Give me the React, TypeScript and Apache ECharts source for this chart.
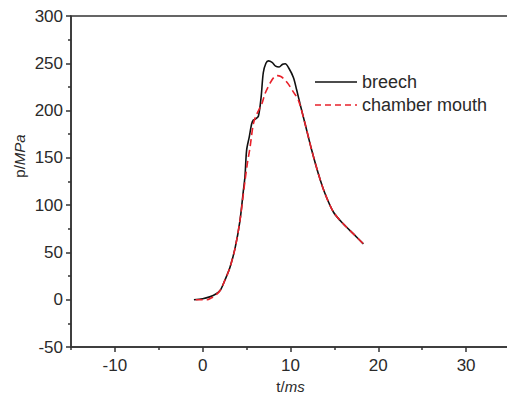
import React, { useEffect, useRef } from "react";
import * as echarts from "echarts";

const breechT = [-1.0, 0, 0.8, 1.5, 2.0, 2.5, 3.1, 3.7, 4.25, 4.63, 4.82, 5.0, 5.3, 5.58, 5.77, 6.0, 6.34, 6.65, 6.9, 7.2, 7.48, 7.9, 8.3, 8.7, 9.1, 9.4, 9.8, 10.33, 10.7, 11.09, 11.66, 12.42, 13.18, 13.94, 14.9, 16.03, 17.17, 18.3];
const breechP = [0, 1, 3, 6, 10, 20, 34, 55, 84, 115, 131, 158, 172, 186, 190, 191, 194, 214, 240, 250, 252.5, 251, 247, 246, 249, 249.5, 245, 235, 222, 207, 186, 158, 133, 112, 92.5, 80, 69.6, 59];

const mouthT = [-0.8, 0.5, 1.0, 1.5, 2.0, 2.5, 3.1, 3.7, 4.25, 4.63, 4.85, 5.1, 5.39, 5.77, 6.1, 6.73, 7.1, 7.67, 8.1, 8.5, 8.9, 9.3, 9.76, 10.3, 10.9, 11.66, 12.42, 13.18, 13.94, 14.9, 16.03, 17.17, 18.3];
const mouthP = [0, 0, 2, 5, 10, 20, 34, 55, 84, 112, 128, 145, 161, 186, 195, 207, 218, 229, 235, 237, 236, 233, 228, 220, 211, 186, 158, 133, 112, 92.5, 80, 69.6, 59];

const xMajor = [-10, 0, 10, 20, 30];
const xMinor = [-15, -5, 5, 15, 25, 35];
const seriesNames = ["breech", "chamber mouth"];
const seriesColors = ["#111111", "#e8202a"];

const FONT = "Liberation Sans, Arial, sans-serif";
const AXIS = "#333333";
const TXT = "#2a2a2a";

export default function App() {
  const ref = useRef<HTMLDivElement>(null);
  useEffect(() => {
    if (!ref.current) return;
    const chart = echarts.init(ref.current, undefined, { renderer: "svg" });
    const zip = (t: number[], p: number[]) => t.map((v, i) => [v, p[i]]);
    const legendY = [82, 105];
    const legendGraphics: any[] = [];
    seriesNames.forEach((n, i) => {
      legendGraphics.push({
        type: "line",
        shape: { x1: 315, y1: legendY[i], x2: 357, y2: legendY[i] },
        style: {
          stroke: seriesColors[i],
          lineWidth: 1.6,
          lineDash: i === 1 ? [6, 4] : null,
        },
      });
      legendGraphics.push({
        type: "text",
        x: 362,
        y: legendY[i],
        style: {
          text: n,
          fontSize: 18,
          fill: TXT,
          fontFamily: FONT,
          align: "left",
          verticalAlign: "middle",
        },
      });
    });
    chart.setOption({
      animation: false,
      backgroundColor: "#ffffff",
      textStyle: { fontFamily: FONT },
      grid: {
        left: 71,
        top: 16,
        right: -3,
        bottom: 47,
        outerBoundsMode: "none",
        containLabel: false,
        show: true,
        borderColor: AXIS,
        borderWidth: 1.5,
        backgroundColor: "transparent",
      },
      xAxis: [
        {
          type: "value",
          min: -15,
          max: 35,
          position: "bottom",
          axisLine: { show: true, onZero: false, lineStyle: { color: AXIS, width: 1.5 } },
          axisTick: { show: true, customValues: xMajor, length: 5, lineStyle: { color: AXIS, width: 1.5 } },
          axisLabel: { customValues: xMajor, fontSize: 17, color: TXT, margin: 10, fontFamily: FONT },
          splitLine: { show: false },
          name: "t/{i|ms}",
          nameLocation: "middle",
          nameGap: 27,
          nameTextStyle: {
            fontSize: 15,
            color: TXT,
            fontFamily: FONT,
            rich: { i: { fontStyle: "italic", fontSize: 15, color: TXT, fontFamily: FONT } },
          },
        },
        {
          type: "value",
          min: -15,
          max: 35,
          position: "bottom",
          offset: 0,
          axisLine: { show: false, onZero: false },
          axisTick: { show: true, customValues: xMinor, length: 3, lineStyle: { color: AXIS, width: 1.5 } },
          axisLabel: { show: false },
          splitLine: { show: false },
        },
      ],
      yAxis: {
        type: "value",
        min: -50,
        max: 300,
        interval: 50,
        axisLine: { show: true, onZero: false, lineStyle: { color: AXIS, width: 1.5 } },
        axisTick: { show: true, length: 5, lineStyle: { color: AXIS, width: 1.5 } },
        minorTick: { show: true, splitNumber: 2, length: 3, lineStyle: { color: AXIS, width: 1.5 } },
        axisLabel: { fontSize: 17, color: TXT, margin: 8, fontFamily: FONT },
        splitLine: { show: false },
      },
      graphic: [
        {
          type: "text",
          x: 19,
          y: 156,
          rotation: Math.PI / 2,
          style: {
            text: "p/{i|MPa}",
            fontSize: 15,
            fill: TXT,
            fontFamily: FONT,
            align: "center",
            verticalAlign: "middle",
            rich: { i: { fontStyle: "italic", fontSize: 15, fill: TXT, fontFamily: FONT } },
          },
        },
        ...legendGraphics,
      ],
      series: [
        {
          name: seriesNames[0],
          type: "line",
          xAxisIndex: 0,
          data: zip(breechT, breechP),
          showSymbol: false,
          symbol: "none",
          smooth: 0.3,
          lineStyle: { color: seriesColors[0], width: 1.6 },
          itemStyle: { color: seriesColors[0] },
          z: 2,
        },
        {
          name: seriesNames[1],
          type: "line",
          xAxisIndex: 0,
          data: zip(mouthT, mouthP),
          showSymbol: false,
          symbol: "none",
          smooth: 0.3,
          lineStyle: { color: seriesColors[1], width: 1.6, type: [7, 4] },
          itemStyle: { color: seriesColors[1] },
          z: 3,
        },
      ],
    });
    return () => chart.dispose();
  }, []);
  return <div ref={ref} style={{ width: 507, height: 394, position: "absolute", left: 0, top: 0 }} />;
}
